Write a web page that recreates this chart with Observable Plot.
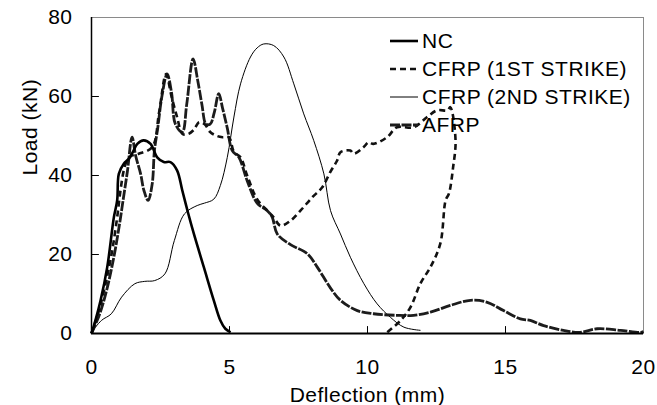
<!DOCTYPE html>
<html><head><meta charset="utf-8">
<script src="https://cdn.jsdelivr.net/npm/d3@7"></script>
<script src="https://cdn.jsdelivr.net/npm/@observablehq/plot@0.6"></script>
<style>
body{margin:0;background:#fff}
#chart svg{font-family:"Liberation Sans",Arial,sans-serif;letter-spacing:0.5px}
</style>
</head><body><div id="chart"></div>
<script>
// ---- data ----
const seriesNames = ["NC", "CFRP (1ST STRIKE)", "CFRP (2ND STRIKE)", "AFRP"];

const ncX = [0,0.15,0.33,0.57,0.81,0.93,0.99,1.17,1.35,1.5,1.66,1.89,2.14,2.38,2.62,2.86,3.1,3.29,3.5,3.71,4.07,4.43,4.67,4.85,5.04];
const ncY = [0,3.5,8.4,16.8,29.4,33.7,40.4,43,44.2,46,48,48.9,48,44.6,43.4,43.4,41.3,36.2,30.5,25.2,16.8,8.4,3.3,1.2,0.3];

const cfrp1X = [0,0.27,0.51,0.75,0.93,1.05,1.17,1.29,1.45,1.71,2.2,2.45,2.7,2.9,3.1,3.3,3.5,3.7,3.9,4.1,4.3,4.55,4.75,4.98,5.16,5.4,5.64,6.0,6.37,6.6,6.85,7.2,7.57,8.0,8.36,8.66,8.9,9.02,9.38,9.5,9.86,10.04,10.22,10.71,11.07,11.67,12.16,12.52,12.9,13.0,13.19,13.1,12.95,12.83,12.64,12.28,11.92,11.56,11.2,10.71];
const cfrp1Y = [0,5.8,12.6,21,29.4,36.2,41.3,43.8,45,45.5,47.2,56,65.7,60,54.8,50.5,50.5,51.5,53.5,53,51,50,49.7,49.7,46,44.6,40,34,31.1,29.4,27.3,28.5,31.1,34.5,37,41,43.8,45.9,46.3,45.5,47.2,48.4,48,49.7,52.2,52.2,54.8,56.5,56.5,57.3,48.9,42,35.4,33.7,22.8,16.8,12.7,6.7,3.3,0.3];

const cfrp2X = [0,0.36,0.72,1.09,1.57,1.93,2.29,2.66,3.0,3.37,3.83,4.09,4.43,4.67,4.92,5.16,5.4,5.76,6.0,6.24,6.6,6.97,7.33,7.69,8.05,8.42,8.66,9.02,9.38,9.87,10.35,10.83,11.32,11.92];
const cfrp2Y = [0.3,3.3,5.0,9.2,12.6,13.2,13.4,15.1,23.5,30.3,32.4,33,34,37.5,44.6,54.8,63.2,70,72.3,73.3,72.9,70,63.2,55.6,48.9,40.4,31.1,25.2,19.3,12.6,7.5,4.1,1.6,0.8];

const afrpX = [0,0.3,0.55,0.8,1.0,1.15,1.3,1.47,1.6,1.78,1.9,2.05,2.2,2.28,2.4,2.55,2.74,2.9,3.04,3.29,3.45,3.68,3.85,4.0,4.15,4.3,4.45,4.61,4.75,4.92,5.1,5.34,5.64,6.0,6.37,6.55,6.73,7.21,7.82,8.18,8.66,9.02,9.63,10.22,11.07,11.67,12.28,13.0,13.73,14.34,14.93,15.54,15.9,16.38,17.1,17.7,18.32,19.17,19.9,20];
const afrpY = [0,5,11,19,27,34,41,49.7,45,40.4,36.2,33.7,37.9,46.3,52,60,65.7,61,53,51,58,69.5,64,58,53,53,56,60.7,57,52,46.3,44.6,38.7,33,31.1,29.4,25.2,22.5,20.2,16.8,11.5,8.4,5.8,5.0,4.6,4.6,5.4,7.1,8.4,7.9,5.8,3.7,3.3,2.0,0.8,0.3,1.2,0.8,0.3,0.5];

const xTicks = [0, 5, 10, 15, 20];
const yTicks = [0, 20, 40, 60, 80];
const xInnerTicks = [5, 10, 15];
const yInnerTicks = [20, 40, 60];
const xLabel = "Deflection (mm)";
const yLabel = "Load (kN)";

// ---- styles ----
const styles = {
  "NC": {stroke: "#000", strokeWidth: 2.6, dash: null},
  "CFRP (1ST STRIKE)": {stroke: "#111", strokeWidth: 2.6, dash: "6,4"},
  "CFRP (2ND STRIKE)": {stroke: "#000", strokeWidth: 1, dash: null},
  "AFRP": {stroke: "#1c1c1c", strokeWidth: 2.8, dash: "10,1.5"}
};

const rows = (xs, ys) => xs.map((x, i) => ({x, y: ys[i]}));
const seriesData = {
  "NC": rows(ncX, ncY),
  "CFRP (1ST STRIKE)": rows(cfrp1X, cfrp1Y),
  "CFRP (2ND STRIKE)": rows(cfrp2X, cfrp2Y),
  "AFRP": rows(afrpX, afrpY)
};

const drawOrder = ["CFRP (2ND STRIKE)", "AFRP", "CFRP (1ST STRIKE)", "NC"];
const lineMarks = drawOrder.map(name => Plot.line(seriesData[name], {
  x: "x", y: "y",
  stroke: styles[name].stroke,
  strokeWidth: styles[name].strokeWidth,
  strokeDasharray: styles[name].dash,
  strokeLinecap: "butt",
  strokeLinejoin: "round",
  curve: "catmull-rom"
}));

// inward tick shape
const tickShape = {draw(context, l) { context.moveTo(0, 0); context.lineTo(0, -l); }};

const chart = Plot.plot({
  width: 657,
  height: 405,
  marginLeft: 91,
  marginRight: 14,
  marginTop: 17,
  marginBottom: 72,
  style: {fontSize: "21px", fontFamily: "'Liberation Sans', Arial, sans-serif", color: "#000", background: "#fff"},
  x: {domain: [0, 20]},
  y: {domain: [0, 80]},
  marks: [
    Plot.frame({stroke: "#8a8a8a", strokeWidth: 1}),
    Plot.axisY(yTicks, {tickSize: 0, tickPadding: 19, label: null, fontSize: 21}),
    Plot.axisX(xTicks, {tickSize: 0, tickPadding: 26, label: null, fontSize: 21}),
    Plot.vector(yInnerTicks, {x: () => xTicks[0], y: d => d, length: 7, rotate: 90, anchor: "start", shape: tickShape, stroke: "#000", strokeWidth: 1}),
    Plot.vector(xInnerTicks, {x: d => d, y: () => yTicks[0], length: 7, rotate: 0, anchor: "start", shape: tickShape, stroke: "#000", strokeWidth: 1}),
    ...lineMarks,
    Plot.ruleX([0], {stroke: "#000", strokeWidth: 1.5}),
    Plot.ruleY([0], {stroke: "#000", strokeWidth: 2}),
    Plot.text([xLabel], {frameAnchor: "bottom", dy: 68, lineAnchor: "bottom", fontSize: 21, text: d => d}),
    Plot.text([yLabel], {frameAnchor: "left", dx: -61, rotate: -90, fontSize: 21, text: d => d})
  ]
});
document.getElementById("chart").append(chart);

// ---- legend (inside plot area, top right) ----
const svg = d3.select(chart);
const lg = svg.append("g").attr("font-size", 21).attr("text-anchor", "start");
seriesNames.forEach((name, i) => {
  const cy = 41 + i * 28;
  const s = styles[name];
  lg.append("line").attr("x1", 390).attr("x2", 418).attr("y1", cy).attr("y2", cy)
    .attr("stroke", s.stroke).attr("stroke-width", s.strokeWidth)
    .attr("stroke-dasharray", s.dash);
  lg.append("text").attr("x", 422).attr("y", cy).attr("dy", "0.35em")
    .attr("text-anchor", "start").attr("fill", "#000").text(name);
});
</script>
</body></html>
